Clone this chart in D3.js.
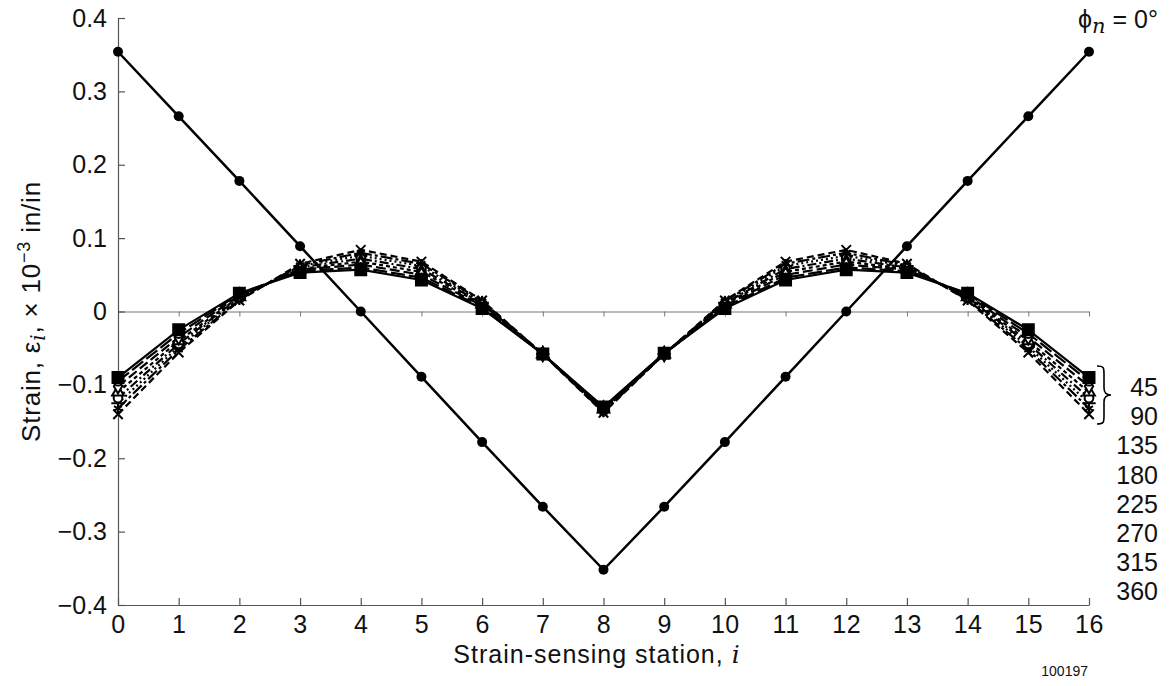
<!DOCTYPE html>
<html lang="en">
  <head>
    <meta charset="UTF-8" />
    <title>Strain vs station</title>
    <script src="https://d3js.org/d3.v7.min.js"></script>
    <style>
      body { margin: 0; background: #fff; }
      svg text { font-family: "Liberation Sans", Arial, Helvetica, sans-serif; fill: #111; }
    </style>
  </head>
  <body>
    <svg id="chart" width="1175" height="686"></svg>
    <script>
      // stations 0..16
      const stations = d3.range(0, 17);

      // phi_n = 0 deg
      const phi0 = [0.354, 0.266, 0.178, 0.089, 0.0, -0.089, -0.178, -0.266, -0.352,
        -0.266, -0.178, -0.089, 0.0, 0.089, 0.178, 0.266, 0.354];

      // other phase angles (clustered curves)
      const s45 = [-0.090, -0.025, 0.025, 0.053, 0.057, 0.043, 0.004, -0.058, -0.130,
        -0.057, 0.004, 0.043, 0.057, 0.053, 0.025, -0.025, -0.090];
      const s90 = [-0.095, -0.030, 0.024, 0.055, 0.060, 0.046, 0.006, -0.058, -0.131,
        -0.057, 0.006, 0.046, 0.060, 0.055, 0.024, -0.030, -0.095];
      const s135 = [-0.102, -0.035, 0.022, 0.057, 0.064, 0.050, 0.008, -0.058, -0.132,
        -0.058, 0.008, 0.050, 0.064, 0.057, 0.022, -0.035, -0.102];
      const s180 = [-0.110, -0.040, 0.020, 0.058, 0.068, 0.054, 0.010, -0.058, -0.133,
        -0.058, 0.010, 0.054, 0.068, 0.058, 0.020, -0.040, -0.110];
      const s225 = [-0.118, -0.044, 0.019, 0.060, 0.072, 0.058, 0.011, -0.058, -0.134,
        -0.058, 0.011, 0.058, 0.072, 0.060, 0.019, -0.044, -0.118];
      const s270 = [-0.125, -0.048, 0.018, 0.062, 0.076, 0.062, 0.012, -0.058, -0.135,
        -0.058, 0.012, 0.062, 0.076, 0.062, 0.018, -0.048, -0.125];
      const s315 = [-0.132, -0.052, 0.016, 0.063, 0.080, 0.065, 0.014, -0.058, -0.137,
        -0.058, 0.014, 0.065, 0.080, 0.063, 0.016, -0.052, -0.132];
      const s360 = [-0.140, -0.056, 0.015, 0.065, 0.084, 0.068, 0.015, -0.058, -0.138,
        -0.058, 0.015, 0.068, 0.084, 0.065, 0.015, -0.056, -0.140];

      const angleLabels = ["45", "90", "135", "180", "225", "270", "315", "360"];
      const yTicks = [-0.4, -0.3, -0.2, -0.1, 0, 0.1, 0.2, 0.3, 0.4];

      const svg = d3.select("#chart");
      const x = d3.scaleLinear().domain([0, 16]).range([118, 1089]);
      const y = d3.scaleLinear().domain([-0.4, 0.4]).range([605, 18]);

      const fmt = (d) => (d === 0 ? "0" : d3.format(".1f")(d).replace("-", "\u2212"));

      // zero reference line with small ticks
      const zeroAxis = svg
        .append("g")
        .attr("transform", `translate(0,${y(0)})`)
        .call(d3.axisBottom(x).ticks(16).tickSize(5).tickSizeOuter(0).tickFormat(""));
      zeroAxis.selectAll("path, line").attr("stroke", "#777").attr("stroke-width", 1);

      // left axis
      const yAxis = svg
        .append("g")
        .attr("transform", `translate(${x(0)},0)`)
        .call(d3.axisLeft(y).tickValues(yTicks).tickSize(-7).tickSizeOuter(0).tickPadding(11).tickFormat(fmt));
      yAxis.selectAll("path, line").attr("stroke", "#555").attr("stroke-width", 1.2);
      yAxis.selectAll("text").style("font-size", "25px");

      // bottom axis
      const xAxis = svg
        .append("g")
        .attr("transform", `translate(0,${y(-0.4)})`)
        .call(d3.axisBottom(x).ticks(16).tickSize(-7).tickSizeOuter(0).tickPadding(10).tickFormat(d3.format("d")));
      xAxis.selectAll("path, line").attr("stroke", "#555").attr("stroke-width", 1.2);
      xAxis.selectAll("text").style("font-size", "25px").style("letter-spacing", "0.5px");

      const line = d3
        .line()
        .x((d, i) => x(stations[i]))
        .y((d) => y(d));

      const clusters = [
        { vals: s360, dash: "7,4", sym: d3.symbolTimes, fill: false },
        { vals: s315, dash: "12,3,3,3", sym: d3.symbolAsterisk, fill: false },
        { vals: s270, dash: "2,3", sym: d3.symbolPlus, fill: false },
        { vals: s225, dash: "9,3,2,3", sym: d3.symbolCircle, fill: false },
        { vals: s180, dash: "4,3", sym: d3.symbolTriangle, fill: false },
        { vals: s135, dash: "10,4", sym: d3.symbolDiamond, fill: false },
        { vals: s90, dash: "14,4", sym: d3.symbolCircle, fill: false },
        { vals: s45, dash: null, sym: d3.symbolSquare, fill: true },
      ];

      clusters.forEach((c) => {
        svg
          .append("path")
          .datum(c.vals)
          .attr("fill", "none")
          .attr("stroke", "#000")
          .attr("stroke-width", 2.2)
          .attr("stroke-dasharray", c.dash)
          .attr("d", line);
        svg
          .append("g")
          .selectAll("path")
          .data(c.vals)
          .join("path")
          .attr("transform", (d, i) => `translate(${x(stations[i])},${y(d)})`)
          .attr("d", d3.symbol(c.sym, c.fill ? 120 : 60))
          .attr("fill", c.fill ? "#000" : "#fff")
          .attr("stroke", "#000")
          .attr("stroke-width", 2);
      });

      // phi_n = 0 line
      svg
        .append("path")
        .datum(phi0)
        .attr("fill", "none")
        .attr("stroke", "#000")
        .attr("stroke-width", 2.5)
        .attr("d", line);
      svg
        .append("g")
        .selectAll("circle")
        .data(phi0)
        .join("circle")
        .attr("cx", (d, i) => x(stations[i]))
        .attr("cy", (d) => y(d))
        .attr("r", 5)
        .attr("fill", "#000");

      // phi_n label
      const phiLabel = svg
        .append("text")
        .attr("x", 1078)
        .attr("y", 28)
        .style("font-size", "25px");
      phiLabel.append("tspan").text("\u03d5");
      phiLabel
        .append("tspan")
        .attr("dy", 5)
        .style("font-style", "italic")
        .style("font-family", "DejaVu Serif, serif")
        .style("font-size", "21px")
        .text("n");
      phiLabel.append("tspan").attr("dy", -5).text(" = 0\u00b0");

      // angle labels on the right
      svg
        .append("g")
        .selectAll("text")
        .data(angleLabels)
        .join("text")
        .attr("x", 1158)
        .attr("y", (d, i) => 396 + i * 29.2)
        .attr("text-anchor", "end")
        .style("font-size", "25px")
        .text((d) => d);

      // brace grouping 45 and 90
      svg
        .append("path")
        .attr(
          "d",
          "M1097,366 C1104,366 1104,368 1104,374 L1104,388 C1104,393 1106,395 1111,395 C1106,395 1104,397 1104,402 L1104,416 C1104,422 1104,424 1097,424"
        )
        .attr("fill", "none")
        .attr("stroke", "#000")
        .attr("stroke-width", 1.6);

      // x axis title
      const xTitle = svg
        .append("text")
        .attr("x", 597)
        .attr("y", 663)
        .attr("text-anchor", "middle")
        .style("font-size", "25px")
        .style("letter-spacing", "1px");
      xTitle.append("tspan").text("Strain-sensing station, ");
      xTitle
        .append("tspan")
        .style("font-style", "italic")
        .style("font-family", "DejaVu Serif, serif")
        .text("i");

      // y axis title
      const yTitle = svg
        .append("text")
        .attr("transform", `translate(40,${y(0)}) rotate(-90)`)
        .attr("text-anchor", "middle")
        .style("font-size", "26px")
        .style("letter-spacing", "0.8px");
      yTitle.append("tspan").text("Strain, \u03b5");
      yTitle
        .append("tspan")
        .attr("dy", 5)
        .style("font-style", "italic")
        .style("font-family", "DejaVu Serif, serif")
        .style("font-size", "20px")
        .text("i");
      yTitle.append("tspan").attr("dy", -5).text(", \u00d7 10");
      yTitle
        .append("tspan")
        .attr("dy", -10)
        .style("font-size", "18px")
        .text("\u22123");
      yTitle.append("tspan").attr("dy", 10).text(" in/in");

      // figure number
      svg
        .append("text")
        .attr("x", 1088)
        .attr("y", 676)
        .attr("text-anchor", "end")
        .style("font-size", "14px")
        .text("100197");
    </script>
  </body>
</html>
